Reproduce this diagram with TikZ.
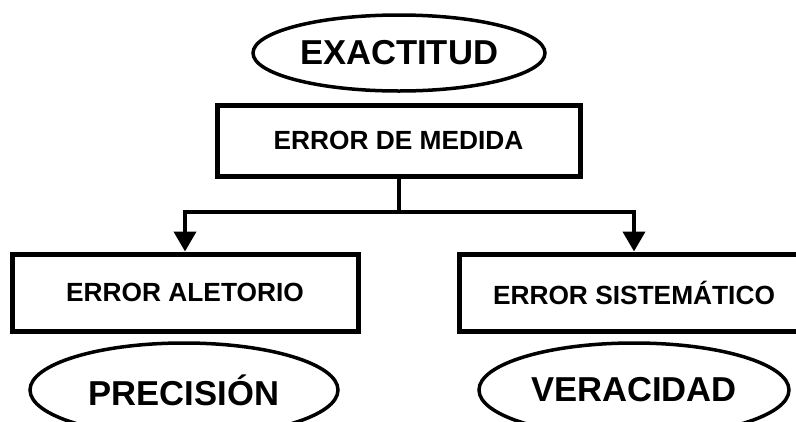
\documentclass[tikz,border=0pt]{standalone}
\usepackage{fontspec}
\setmainfont{Liberation Sans}
\usetikzlibrary{shapes.geometric, arrows.meta}

\tikzset{
	caja/.style={draw, line width=5pt, minimum height=77pt, font=\bfseries\fontsize{26.3}{30}\selectfont},
	elipse/.style={draw, ellipse, line width=3.5pt, inner sep=0pt, font=\bfseries\fontsize{34.6}{40}\selectfont},
	flecha/.style={line width=4pt, -{Triangle[width=22pt,length=20pt]}}
}

\begin{document}
\begin{tikzpicture}
	\useasboundingbox (0,0) rectangle (796pt,-421pt);
	\clip (0,0) rectangle (796pt,-421pt);
		\node[elipse, minimum width=292pt, minimum height=76pt] (exactitud) at (399pt,-53pt) {EXACTITUD};
		\node[caja, minimum width=363pt, minimum height=71pt] (medida) at (398.5pt,-140.5pt) {ERROR DE MEDIDA};
		\node[caja, minimum width=346pt] (aleatorio) at (185pt,-292.5pt) {ERROR ALETORIO};
		\node[caja, minimum width=350pt] (sistematico) at (634pt,-292.5pt) {ERROR SISTEMÁTICO};
		\node[elipse, minimum width=308pt, minimum height=94pt] (precision) at (184pt,-390pt) {PRECISIÓN};
		\node[elipse, minimum width=310pt, minimum height=94pt] (veracidad) at (634pt,-390pt) {VERACIDAD};
		\coordinate (rama) at (medida.south |- 0,-212pt);
		\draw[line width=4pt] (medida.south) -- (rama);
		\draw[flecha] (rama) -| (aleatorio.north);
		\draw[flecha] (rama) -| (sistematico.north);
	\end{tikzpicture}
\end{document}
